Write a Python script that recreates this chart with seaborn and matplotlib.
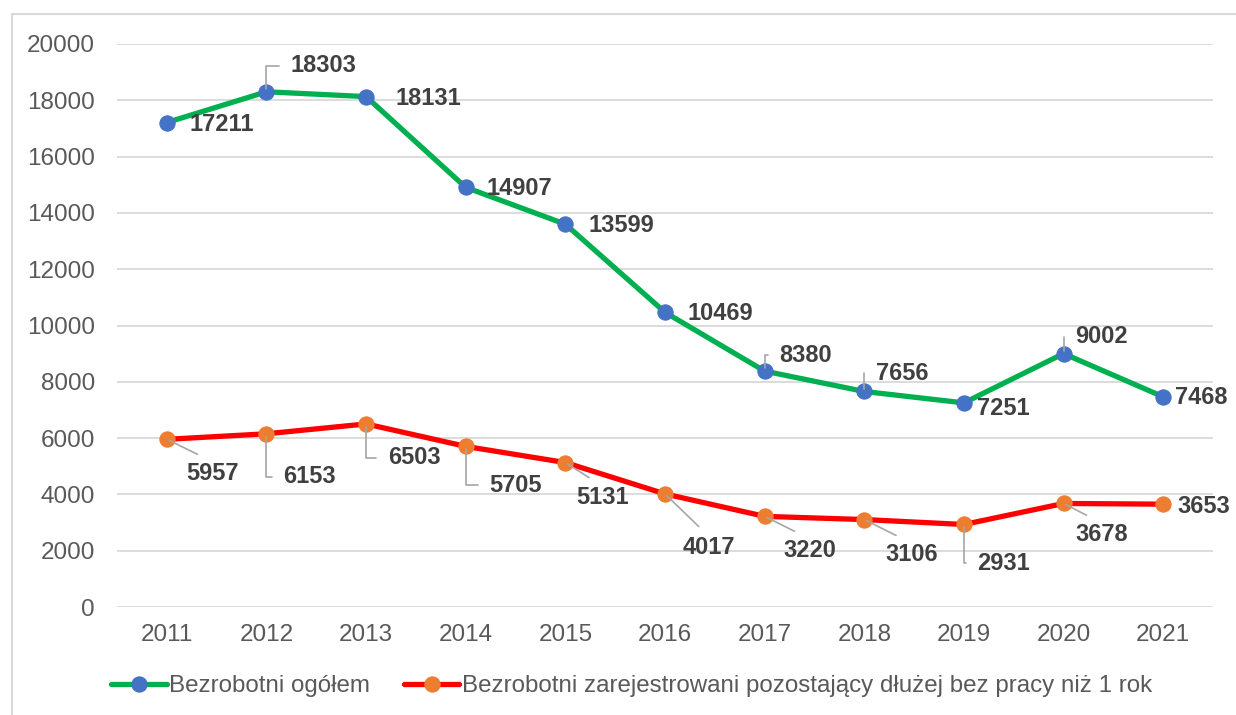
import matplotlib
matplotlib.use("Agg")
import matplotlib.pyplot as plt
import matplotlib.patches as mpatches
import seaborn as sns
import pandas as pd

years = [2011, 2012, 2013, 2014, 2015, 2016, 2017, 2018, 2019, 2020, 2021]
total = [17211, 18303, 18131, 14907, 13599, 10469, 8380, 7656, 7251, 9002, 7468]
long_term = [5957, 6153, 6503, 5705, 5131, 4017, 3220, 3106, 2931, 3678, 3653]
series_names = ["Bezrobotni ogółem",
                "Bezrobotni zarejestrowani pozostający dłużej bez pracy niż 1 rok"]
y_ticks = [0, 2000, 4000, 6000, 8000, 10000, 12000, 14000, 16000, 18000, 20000]

# label layout: (dx, dy) in pixels, leader type
total_lab = [((55, -2), None), ((57, 26), 'e'), ((62, -2), None), ((54, -1), None),
             ((56, -1), None), ((55, -1), None), ((41, 16), 'e'), ((38, 18), 'e'),
             ((39, -6), None), ((38, 17), 'e'), ((38, -1), None)]
long_lab = [((46, -34), 'd'), ((43, -43), 'e'), ((48, -34), 'e'), ((50, -39), 'e'),
            ((37, -35), 'd'), ((44, -54), 'd'), ((45, -34), 'd'), ((47, -35), 'd'),
            ((40, -39), 'e'), ((38, -31), 'd'), ((41, -2), None)]

sns.set_theme(style="white")
plt.rcParams['font.family'] = ['Liberation Sans', 'DejaVu Sans']

fig = plt.figure(figsize=(12.36, 7.15), dpi=100)
ax = fig.add_axes([117/1236, 1-607/715, (1213-117)/1236, (607-44)/715])

df = pd.DataFrame({"year": years, "total": total, "long": long_term})

GREEN, RED, BLUE, ORANGE = "#00b050", "#ff0000", "#4472c4", "#ed7d31"
sns.lineplot(data=df, x="year", y="total", ax=ax, color=GREEN, lw=3.8,
             marker='o', markersize=11, markerfacecolor=BLUE, markeredgecolor=BLUE,
             label=series_names[0], zorder=3)
sns.lineplot(data=df, x="year", y="long", ax=ax, color=RED, lw=3.8,
             marker='o', markersize=11, markerfacecolor=ORANGE, markeredgecolor=ORANGE,
             label=series_names[1], zorder=3)

ax.set_xlim(2010.5, 2021.5)
ax.set_ylim(0, 20000)
ax.set_yticks(y_ticks)
ax.set_yticklabels([str(v) for v in y_ticks])
ax.set_xticks(years)
ax.set_xticklabels([str(y) for y in years])
ax.set_xlabel("")
ax.set_ylabel("")
for s in ax.spines.values():
    s.set_visible(False)
ax.grid(axis='y', color='#d9d9d9', lw=1.3)
ax.grid(axis='x', visible=False)
ax.set_axisbelow(True)
ax.tick_params(axis='both', length=0, labelsize=17.5, labelcolor='#595959')
ax.tick_params(axis='y', pad=16)
ax.tick_params(axis='x', pad=12)

LEAD = '#a6a6a6'


def annotate(xs, ys, layout):
    for x, y, ((dx, dy), kind) in zip(xs, ys, layout):
        kw = dict(xy=(x, y), xytext=(dx, dy), textcoords='offset pixels',
                  ha='center', va='center', fontsize=17, fontweight='bold',
                  color='#404040', annotation_clip=False, zorder=5)
        if kind == 'e':
            kw['arrowprops'] = dict(arrowstyle='-', color=LEAD, lw=1.2,
                                    connectionstyle='angle,angleA=0,angleB=90,rad=0',
                                    relpos=(0, 0.5), shrinkA=6, shrinkB=2)
        elif kind == 'd':
            kw['arrowprops'] = dict(arrowstyle='-', color=LEAD, lw=1.2,
                                    relpos=(0.5, 1), shrinkA=7, shrinkB=2)
        ax.annotate(str(y), **kw)


annotate(years, total, total_lab)
annotate(years, long_term, long_lab)

leg = ax.legend(loc='center', bbox_to_anchor=(0.511, 1-686/715),
                bbox_transform=fig.transFigure, ncol=2, frameon=False,
                fontsize=17.4, handlelength=2.3, handletextpad=0.1,
                columnspacing=1.4, labelcolor='#595959')

fig.patches.append(mpatches.Rectangle((12/1236, -0.1), 1.2, 1-14/715+0.1,
                                      transform=fig.transFigure, fill=False,
                                      edgecolor='#d9d9d9', lw=1.5, zorder=0))

fig.savefig("out.png", dpi=100)
